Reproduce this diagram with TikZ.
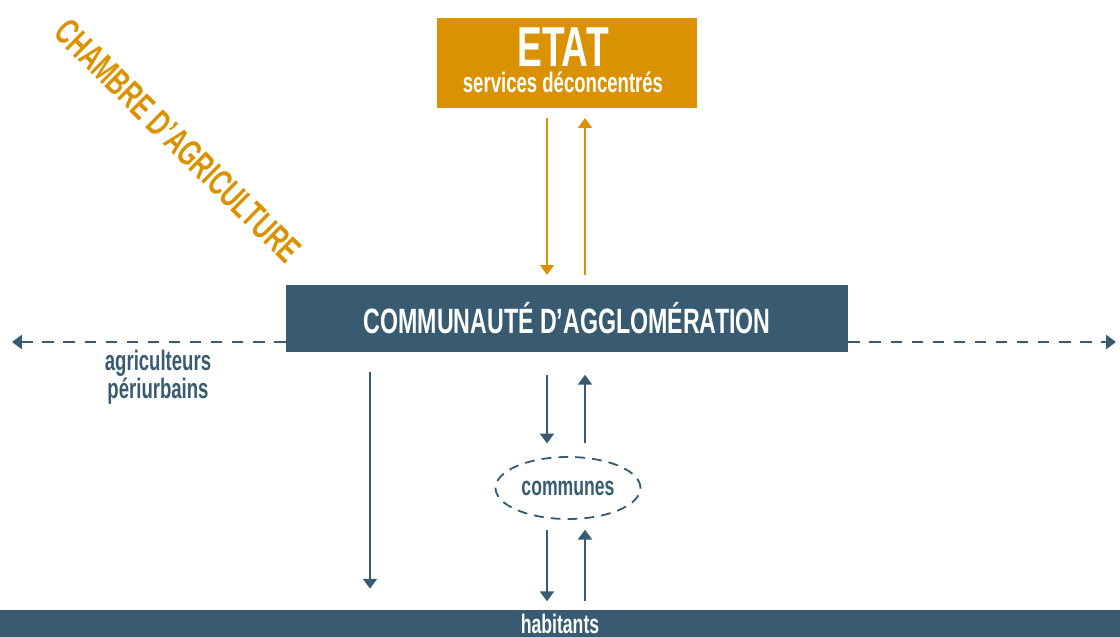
\documentclass[tikz,border=0pt]{standalone}
\usepackage{fontspec}
\setmainfont{Liberation Sans}
\newfontfamily\condfont[FakeStretch=0.66]{Liberation Sans}
\usetikzlibrary{arrows.meta, positioning, shapes.geometric, calc}
\definecolor{etatorange}{RGB}{218,146,0}
\definecolor{agglo}{RGB}{56,91,114}

\begin{document}
\begin{tikzpicture}[
  x=0.025cm, y=-0.025cm,
  font=\condfont\bfseries,
  box/.style={rectangle, inner sep=0pt, text=white, align=center},
  arr/.style={-{Triangle[length=7pt,width=10pt]}, line width=1.3pt},
  dasharr/.style={-{Triangle[length=7pt,width=10pt]}, line width=1.4pt, dash pattern=on 8pt off 7pt, draw=agglo},
  lbl/.style={text=agglo, align=center}
]
\useasboundingbox (0,0) rectangle (1120,637);
% boxes
\node[box, fill=etatorange, minimum width=6.5cm, minimum height=2.25cm] (etat) at (567,63) {};
\node[text=white, anchor=base, font=\condfont\bfseries\fontsize{40}{40}\selectfont] (etattitle) at (563,67) {ETAT};
\node[text=white, anchor=base, font=\condfont\bfseries\fontsize{20}{20}\selectfont] (etatsub) at (563,93) {services déconcentrés};
\node[box, fill=agglo, minimum width=14.05cm, minimum height=1.675cm, font=\condfont\bfseries\fontsize{25}{25}\selectfont] (cda) at (567,318.5) {COMMUNAUTÉ D’AGGLOMÉRATION};
\node[ellipse, draw=agglo, line width=1.3pt, dash pattern=on 7pt off 5pt, minimum width=3.6cm, minimum height=1.55cm, lbl, font=\condfont\bfseries\fontsize{19}{19}\selectfont] (communes) at (568,488) {communes};
\node[box, fill=agglo, minimum width=28cm, minimum height=0.675cm, font=\condfont\bfseries\fontsize{19}{19}\selectfont] (hab) at (560,623.5) {habitants};
\node[lbl, font=\condfont\bfseries\fontsize{20}{20}\selectfont] (agri) at (158,377) {agriculteurs\\périurbains};
\node[text=etatorange, rotate=-44.6, font=\condfont\bfseries\fontsize{26}{26}\selectfont] (chambre) at (178,141) {CHAMBRE D’AGRICULTURE};
% columns for the vertical arrows
\coordinate (xd) at (547,0);
\coordinate (xu) at (585,0);
\coordinate (xl) at (370,0);
\coordinate (dl) at (12,342);
\coordinate (dr) at (1116,342);
% etat <-> communaute
\draw[arr, draw=etatorange, shorten <=7pt, shorten >=7pt] (etat.south -| xd) -- (cda.north -| xd);
\draw[arr, draw=etatorange, shorten <=7pt, shorten >=7pt] (cda.north -| xu) -- (etat.south -| xu);
% communaute <-> communes
\draw[arr, draw=agglo, shorten <=16pt, shorten >=9pt] (cda.south -| xd) -- (communes.north -| xd);
\draw[arr, draw=agglo, shorten <=9pt, shorten >=16pt] (communes.north -| xu) -- (cda.south -| xu);
% communes <-> habitants
\draw[arr, draw=agglo, shorten <=7pt, shorten >=6pt] (communes.south -| xd) -- (hab.north -| xd);
\draw[arr, draw=agglo, shorten <=6pt, shorten >=7pt] (hab.north -| xu) -- (communes.south -| xu);
% communaute -> habitants
\draw[arr, draw=agglo, shorten <=14pt, shorten >=15pt] (cda.south -| xl) -- (hab.north -| xl);
% agriculteurs
\draw[dasharr] (cda.west |- dl) -- (dl);
\draw[dasharr] (cda.east |- dr) -- (dr);
\end{tikzpicture}
\end{document}
